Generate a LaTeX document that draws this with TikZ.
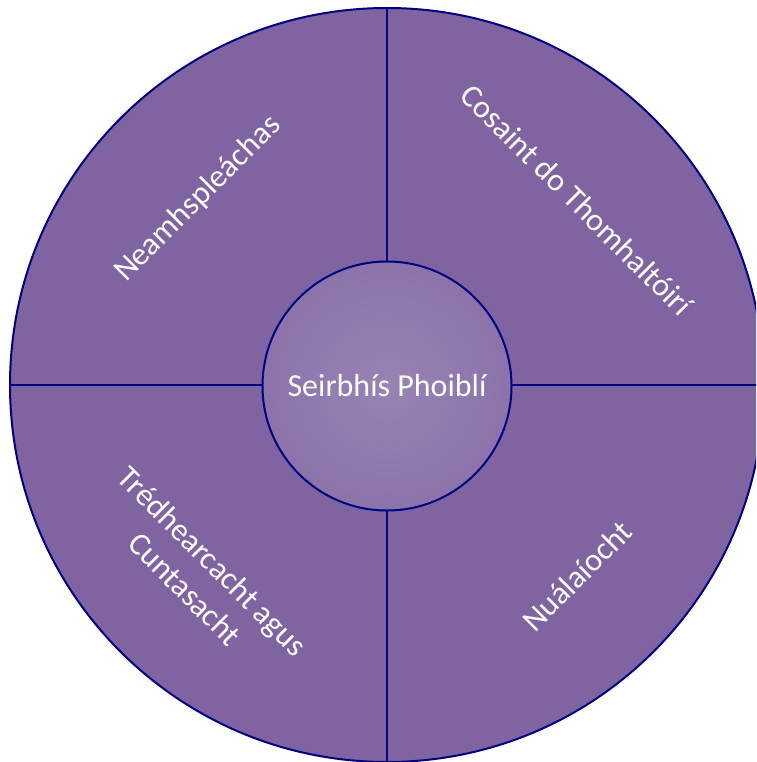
\documentclass[tikz,border=0pt]{standalone}
\usepackage{fontspec}
\setmainfont{Carlito}
\usepackage{tikz}
\usetikzlibrary{positioning}
\usetikzlibrary{shapes}

\definecolor{segfill}{RGB}{128,100,162}
\definecolor{segline}{RGB}{0,0,128}
\definecolor{hubin}{RGB}{152,131,180}
\definecolor{hubout}{RGB}{126,99,161}
\pgfdeclareradialshading{hubglow}{\pgfpointorigin}{color(0bp)=(hubin);
	color(50bp)=(hubout); color(100bp)=(hubout)}

\begin{document}
\begin{tikzpicture}[x=1pt, y=-1pt, inner sep=0pt,
		lbl/.style={text=white, font=\fontsize{32}{39}\selectfont, align=center}]
		\useasboundingbox (0,0) rectangle (756,762); \clip (0,0) rectangle
		(756,762); \node (ring) [draw=segline, line width=2pt, circle, fill=segfill,
		minimum size=754pt] at (387,385) {}; \draw[segline, line width=2.2pt]
		(ring.north) -- (ring.south); \draw[segline, line width=2.2pt] (ring.west)
		-- (ring.east); \node (hub) [draw=segline, line width=2pt, circle,
		shading=hubglow, minimum size=249pt] at (387,386) {}; \node (core) [lbl] at
		(hub) {Seirbhís Phoiblí}; \node (indep) [lbl, rotate=45] at (198,199)
		{Neamhspleáchas}; \node (consumer) [lbl, rotate=-45] at (577,200) {Cosaint
			do Thomhaltóirí}; \node (transp) [lbl, rotate=-45] at (199,575)
		{Trédhearcacht agus\\Cuntasacht}; \node (innov) [lbl, rotate=45] at
		(577,576) {Nuálaíocht};
	\end{tikzpicture}
\end{document}
